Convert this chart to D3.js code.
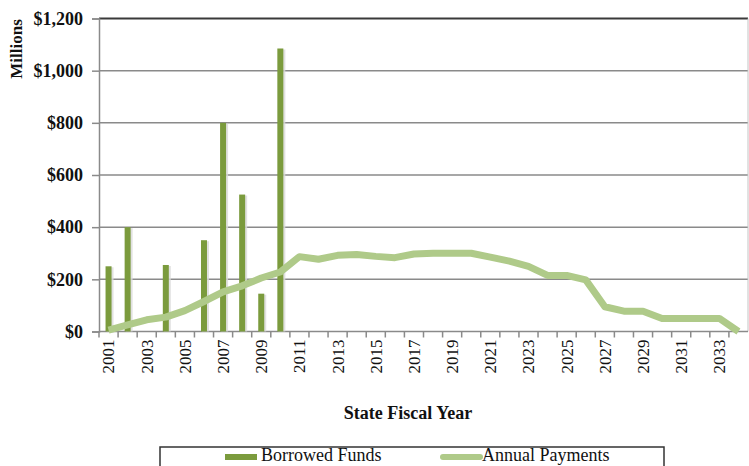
<!DOCTYPE html>
<html>
<head>
<meta charset="utf-8">
<script src="https://cdn.jsdelivr.net/npm/d3@7"></script>
<style>
  html, body { margin: 0; padding: 0; background: #fff; }
  svg { display: block; }
  text { font-family: "Liberation Serif", "Times New Roman", serif; fill: #111; }
</style>
</head>
<body>
<svg id="chart" width="749" height="466"></svg>
<script>
const years = d3.range(2001, 2035).map(String);
const borrowedYears = ["2001","2002","2004","2006","2007","2008","2009","2010"];
const borrowedValues = [250, 400, 255, 350, 800, 525, 145, 1085];
const paymentValues = [5, 25, 45, 55, 80, 115, 152, 175, 205, 228,
  287, 277, 292, 295, 288, 283, 297, 300, 300, 300,
  285, 270, 250, 215, 215, 198, 95, 78, 78, 50,
  50, 50, 50, 0];
const yTicks = [0, 200, 400, 600, 800, 1000, 1200];
const xLabelYears = years.filter((d, i) => i % 2 === 0);

const barColor = "#7b9b3d";
const lineColor = "#afca89";

const svg = d3.select("#chart");
const plotLeft = 99, plotRight = 748, plotTop = 18.5, plotBottom = 331.5;

const x = d3.scaleBand().domain(years).range([plotLeft, plotRight]).paddingInner(0).paddingOuter(0);
const y = d3.scaleLinear().domain([0, 1200]).range([plotBottom, plotTop]);
const cx = d => x(d) + x.bandwidth() / 2;

// gridlines
svg.append("g").selectAll("line").data(yTicks.filter(t => t > 0 && t < 1200)).join("line")
  .attr("x1", plotLeft).attr("x2", plotRight)
  .attr("y1", d => y(d)).attr("y2", d => y(d))
  .attr("stroke", "#8a8a8a").attr("stroke-width", 1.5);
// top border
svg.append("line").attr("x1", plotLeft).attr("x2", plotRight).attr("y1", y(1200)).attr("y2", y(1200))
  .attr("stroke", "#3a3a3a").attr("stroke-width", 2);
// right border
svg.append("line").attr("x1", plotRight).attr("x2", plotRight).attr("y1", y(1200)).attr("y2", y(0))
  .attr("stroke", "#c4c4c4").attr("stroke-width", 1);

// y axis
const yAxis = svg.append("g").attr("transform", `translate(${plotLeft},0)`)
  .call(d3.axisLeft(y).tickValues(yTicks).tickSize(7).tickPadding(9)
    .tickFormat(d => "$" + d3.format(",")(d)));
yAxis.select(".domain").attr("stroke", "#8a8a8a").attr("stroke-width", 1.5);
yAxis.selectAll(".tick line").attr("stroke", "#8a8a8a").attr("stroke-width", 1.5);
yAxis.selectAll(".tick text").attr("font-family", "Liberation Serif").attr("font-weight", "bold")
  .attr("font-size", 18).attr("fill", "#111");

// x axis baseline and ticks
const xAxisG = svg.append("g");
xAxisG.append("line").attr("x1", plotLeft).attr("x2", plotRight).attr("y1", y(0)).attr("y2", y(0))
  .attr("stroke", "#8a8a8a").attr("stroke-width", 1.5);
xAxisG.selectAll("line.tk").data(years).join("line").attr("class", "tk")
  .attr("x1", d => x(d)).attr("x2", d => x(d))
  .attr("y1", y(0)).attr("y2", y(0) + 6)
  .attr("stroke", "#8a8a8a").attr("stroke-width", 1.5);
xAxisG.selectAll("text").data(xLabelYears).join("text")
  .attr("transform", d => `translate(${cx(d)},${y(0) + 8}) rotate(-90)`)
  .attr("text-anchor", "end").attr("dy", "0.35em")
  .attr("font-size", 17).text(d => d);

// bar shadows
svg.append("g").selectAll("rect").data(borrowedYears).join("rect")
  .attr("x", d => cx(d) - 2)
  .attr("y", (d, i) => y(borrowedValues[i]) + 1)
  .attr("width", 7)
  .attr("height", (d, i) => y(0) - y(borrowedValues[i]) - 1)
  .attr("fill", "#d9d9d9").attr("opacity", 0.8);
// bars
svg.append("g").selectAll("rect").data(borrowedYears).join("rect")
  .attr("x", d => cx(d) - 3)
  .attr("y", (d, i) => y(borrowedValues[i]))
  .attr("width", 6)
  .attr("height", (d, i) => y(0) - y(borrowedValues[i]))
  .attr("fill", barColor);

// line
const line = d3.line().x((d, i) => cx(years[i])).y(d => y(d));
svg.append("path").datum(paymentValues)
  .attr("d", line).attr("fill", "none")
  .attr("stroke", lineColor).attr("stroke-width", 7)
  .attr("stroke-linejoin", "round").attr("stroke-linecap", "butt");

// axis titles
svg.append("text").attr("transform", "translate(22,49) rotate(-90)")
  .attr("text-anchor", "middle").attr("font-weight", "bold").attr("font-size", 17)
  .text("Millions");
svg.append("text").attr("x", 408).attr("y", 419)
  .attr("text-anchor", "middle").attr("font-weight", "bold").attr("font-size", 18)
  .text("State Fiscal Year");

// legend
const lg = svg.append("g");
lg.append("rect").attr("x", 160).attr("y", 447).attr("width", 504).attr("height", 30)
  .attr("fill", "#fff").attr("stroke", "#333").attr("stroke-width", 1.5);
lg.append("rect").attr("x", 225).attr("y", 454).attr("width", 32).attr("height", 6).attr("fill", barColor);
lg.append("text").attr("x", 261).attr("y", 461).attr("font-size", 18).text("Borrowed Funds");
lg.append("line").attr("x1", 443).attr("x2", 480).attr("y1", 457).attr("y2", 457)
  .attr("stroke", lineColor).attr("stroke-width", 6).attr("stroke-linecap", "round");
lg.append("text").attr("x", 482).attr("y", 461).attr("font-size", 18).text("Annual Payments");
</script>
</body>
</html>
